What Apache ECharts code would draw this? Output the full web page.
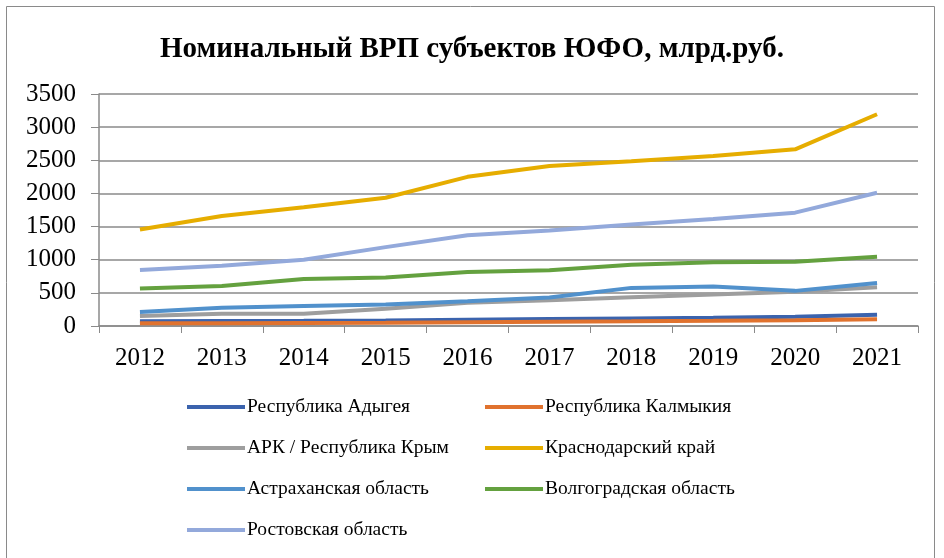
<!DOCTYPE html>
<html lang="ru">
<head>
<meta charset="UTF-8">
<title>Номинальный ВРП субъектов ЮФО</title>
<script src="https://cdn.jsdelivr.net/npm/echarts@6/dist/echarts.min.js"></script>
<style>
  * { margin: 0; padding: 0; box-sizing: border-box; }
  body { background: #fff; }
  #chart { width: 944px; height: 558px; }
</style>
</head>
<body>
<div id="chart"></div>
<script>
const years = ['2012','2013','2014','2015','2016','2017','2018','2019','2020','2021'];

const adygea     = [70, 74, 78, 84, 95, 105, 115, 125, 140, 170];
const kalmykia   = [40, 42, 45, 48, 58, 65, 70, 78, 88, 100];
const crimea     = [150, 185, 185, 260, 350, 390, 435, 475, 515, 585];
const krasnodar  = [1455, 1660, 1790, 1935, 2250, 2415, 2485, 2565, 2665, 3195];
const astrakhan  = [210, 275, 300, 325, 375, 430, 575, 595, 530, 650];
const volgograd  = [565, 605, 710, 730, 815, 840, 925, 960, 970, 1045];
const rostov     = [845, 910, 1000, 1190, 1370, 1440, 1530, 1615, 1710, 2010];

const names = ['Республика Адыгея','Республика Калмыкия','АРК / Республика Крым','Краснодарский край',
               'Астраханская область','Волгоградская область','Ростовская область'];
const values = [adygea, kalmykia, crimea, krasnodar, astrakhan, volgograd, rostov];
const colors = ['#3b63ad','#e0722e','#9e9e9e','#e6ad00','#5191cc','#64a13f','#93a9db'];

const font = '"Liberation Serif", "DejaVu Serif", serif';

// legend: two columns, one legend per entry so rows line up like the original
const legendPos = [[187, 0], [485, 0], [187, 1], [485, 1], [187, 2], [485, 2], [187, 3]];
const legends = names.map((n, i) => ({
  left: legendPos[i][0],
  top: 397 + legendPos[i][1] * 41,
  padding: 0,
  icon: 'rect',
  itemWidth: 58,
  itemHeight: 4,
  itemGap: 0,
  data: [n],
  textStyle: { fontFamily: font, fontSize: 19.5, color: '#000', padding: [0, 0, 0, -3] }
}));

const chart = echarts.init(document.getElementById('chart'));
chart.setOption({
  animation: false,
  color: colors,
  title: {
    text: 'Номинальный ВРП субъектов ЮФО, млрд.руб.',
    left: 'center',
    top: 30,
    textStyle: { fontFamily: font, fontSize: 29, fontWeight: 'bold', color: '#000' }
  },
  graphic: [{
    type: 'rect',
    shape: { x: 6.5, y: 6.5, width: 928, height: 600 },
    style: { fill: 'none', stroke: '#8a8a8a', lineWidth: 1 }
  }],
  legend: legends,
  grid: { left: 99, right: 26, top: 94, bottom: 232, containLabel: false },
  xAxis: {
    type: 'category',
    data: years,
    boundaryGap: true,
    axisLine: { lineStyle: { color: '#8a8a8a', width: 1.5 } },
    axisTick: { show: true, length: 7, lineStyle: { color: '#8a8a8a' } },
    axisLabel: { fontFamily: font, fontSize: 25, color: '#000', margin: 20 }
  },
  yAxis: {
    type: 'value',
    min: 0,
    max: 3500,
    interval: 500,
    axisLine: { show: true, lineStyle: { color: '#8a8a8a', width: 1.5 } },
    axisTick: { show: true, length: 8, lineStyle: { color: '#8a8a8a' } },
    splitLine: { lineStyle: { color: '#8a8a8a', width: 1.5 } },
    axisLabel: { fontFamily: font, fontSize: 25, color: '#000', margin: 23, formatter: v => String(v) }
  },
  series: names.map((n, i) => ({
    name: n,
    type: 'line',
    data: values[i],
    symbol: 'none',
    lineStyle: { width: 4, color: colors[i] },
    itemStyle: { color: colors[i] }
  }))
});
</script>
</body>
</html>
